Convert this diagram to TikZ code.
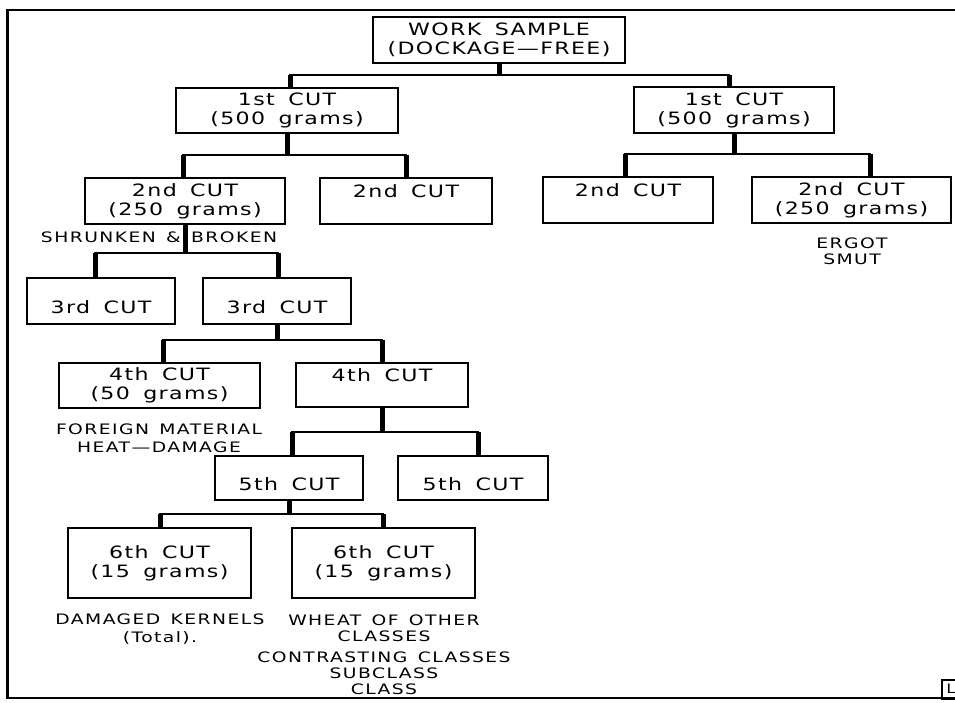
\documentclass[tikz,border=0pt]{standalone}
\usepackage{fontspec}
\newfontfamily\boxfont[FakeStretch=1.3,LetterSpace=8,WordSpace=1.6]{DejaVu Sans}
\newfontfamily\notefont[FakeStretch=1.3,LetterSpace=10,WordSpace=1.4]{DejaVu Sans}

\begin{document}
\begin{tikzpicture}[x=1pt,y=-1pt,
  cut/.style={draw,line width=2.5pt,inner sep=0pt,outer sep=0pt,align=center,
    font=\boxfont\fontsize{17}{19}\selectfont},
  upper/.style={text depth=19pt},
  lower/.style={text height=24pt,text depth=0pt},
  note/.style={align=center,font=\notefont\fontsize{14.4}{16}\selectfont},
  trunk/.style={line width=5pt},
  bar/.style={line width=2.8pt,line cap=rect}]

  \useasboundingbox (0,0) rectangle (955,702);
  \clip (0,0) rectangle (955,702);
  \draw[line width=2.5pt] (7.5,10) rectangle (965,698);

  % the cuts
  \node[cut,minimum width=252pt,minimum height=46pt] (ws) at (499,40) {WORK SAMPLE\\(DOCKAGE—FREE)};
  \node[cut,minimum width=222pt,minimum height=45pt] (c1a) at (287,110.5) {1st CUT\\(500 grams)};
  \node[cut,minimum width=200pt,minimum height=46pt] (c1b) at (734,110) {1st CUT\\(500 grams)};
  \node[cut,minimum width=200pt,minimum height=46pt] (c2a) at (185,201) {2nd CUT\\(250 grams)};
  \node[cut,upper,minimum width=172pt,minimum height=46pt] (c2b) at (406,201) {2nd CUT};
  \node[cut,upper,minimum width=170pt,minimum height=46pt] (c2c) at (628,200) {2nd CUT};
  \node[cut,minimum width=199pt,minimum height=46pt] (c2d) at (851.5,200) {2nd CUT\\(250 grams)};
  \node[cut,lower,minimum width=148pt,minimum height=46pt] (c3a) at (101,301) {3rd CUT};
  \node[cut,lower,minimum width=148pt,minimum height=46pt] (c3b) at (277,301) {3rd CUT};
  \node[cut,minimum width=201pt,minimum height=45pt] (c4a) at (159.5,385.5) {4th CUT\\(50 grams)};
  \node[cut,upper,minimum width=172pt,minimum height=44pt] (c4b) at (382,385) {4th CUT};
  \node[cut,lower,minimum width=148pt,minimum height=44pt] (c5a) at (289,478) {5th CUT};
  \node[cut,lower,minimum width=150pt,minimum height=44pt] (c5b) at (473,478) {5th CUT};
  \node[cut,minimum width=183pt,minimum height=70pt] (c6a) at (159.5,563) {6th CUT\\(15 grams)};
  \node[cut,minimum width=183pt,minimum height=70pt] (c6b) at (383.5,563) {6th CUT\\(15 grams)};

  % what each cut is checked for
  \node[note] (shb) at (159,237) {SHRUNKEN \& BROKEN};
  \node[note] (ergot) at (852,251) {ERGOT\\SMUT};
  \node[note] (fm) at (159,438) {FOREIGN MATERIAL\\[2pt]HEAT—DAMAGE};
  \node[note] (dk) at (160,629) {DAMAGED KERNELS\\[2pt](Total).};
  \node[note] (wo) at (384,655) {WHEAT OF OTHER\\CLASSES\\[5pt]CONTRASTING CLASSES\\SUBCLASS\\CLASS};

  \node[draw,line width=2pt,minimum size=19pt,inner sep=0pt,
    font=\boxfont\fontsize{13}{13}\selectfont] (corner) at (951,689) {L};

  % forks
  \coordinate (f1l) at (290,75);  \coordinate (f1r) at (729,75);
  \draw[trunk] (ws) -- (ws |- f1l);
  \draw[bar] (f1l) -- (f1r);
  \draw[trunk] (f1l) -- (f1l |- c1a.north);
  \draw[trunk] (f1r) -- (f1r |- c1b.north);

  \coordinate (f2l) at (183,155);  \coordinate (f2r) at (406,155);
  \draw[trunk] (c1a) -- (c1a |- f2l);
  \draw[bar] (f2l) -- (f2r);
  \draw[trunk] (f2l) -- (f2l |- c2a.north);
  \draw[trunk] (f2r) -- (f2r |- c2b.north);

  \coordinate (f3l) at (625,154);  \coordinate (f3r) at (870,154);
  \draw[trunk] (c1b) -- (c1b |- f3l);
  \draw[bar] (f3l) -- (f3r);
  \draw[trunk] (f3l) -- (f3l |- c2c.north);
  \draw[trunk] (f3r) -- (f3r |- c2d.north);

  \coordinate (f4l) at (95,253);  \coordinate (f4r) at (278,253);
  \draw[trunk] (c2a) -- (c2a |- f4l);
  \draw[bar] (f4l) -- (f4r);
  \draw[trunk] (f4l) -- (f4l |- c3a.north);
  \draw[trunk] (f4r) -- (f4r |- c3b.north);

  \coordinate (f5l) at (163,340);  \coordinate (f5r) at (382,340);
  \draw[trunk] (c3b) -- (c3b |- f5l);
  \draw[bar] (f5l) -- (f5r);
  \draw[trunk] (f5l) -- (f5l |- c4a.north);
  \draw[trunk] (f5r) -- (f5r |- c4b.north);

  \coordinate (f6l) at (292,432);  \coordinate (f6r) at (478,432);
  \draw[trunk] (c4b) -- (c4b |- f6l);
  \draw[bar] (f6l) -- (f6r);
  \draw[trunk] (f6l) -- (f6l |- c5a.north);
  \draw[trunk] (f6r) -- (f6r |- c5b.north);

  \coordinate (f7l) at (160,514);  \coordinate (f7r) at (383,514);
  \draw[trunk] (c5a) -- (c5a |- f7l);
  \draw[bar] (f7l) -- (f7r);
  \draw[trunk] (f7l) -- (f7l |- c6a.north);
  \draw[trunk] (f7r) -- (f7r |- c6b.north);
\end{tikzpicture}
\end{document}
